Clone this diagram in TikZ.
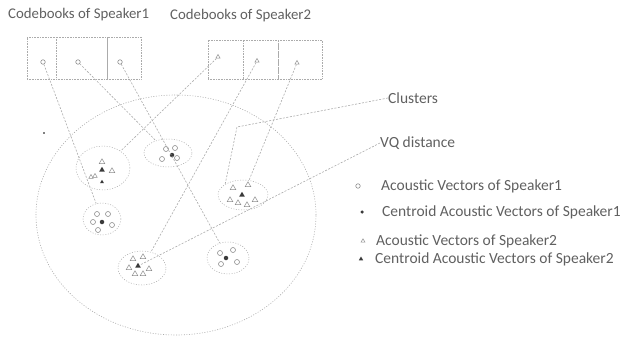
\documentclass[tikz,border=0pt]{standalone}
\usepackage{fontspec}
\setmainfont{Carlito}
\usetikzlibrary{shapes.geometric}
\definecolor{ink}{HTML}{606060}
\definecolor{wire}{HTML}{ABABAB}
\definecolor{mark}{HTML}{8C8C8C}
\definecolor{solid}{HTML}{3A3A3A}
\begin{document}
\begin{tikzpicture}[x=1pt,y=-1pt,
  lbl/.style={text=ink, inner sep=0pt, anchor=west},
  ttl/.style={lbl, font=\fontsize{14.8}{17}\selectfont},
  ann/.style={lbl, font=\fontsize{15.5}{18}\selectfont},
  cell/.style={draw=wire, densely dotted, line width=0.6pt, inner sep=0pt},
  link/.style={draw=wire, dash pattern=on 2pt off 1.5pt, line width=0.6pt},
  clus/.style={draw=wire, dash pattern=on 1pt off 1.6pt, ellipse, inner sep=0pt, line width=0.5pt},
  vecA/.style={circle, draw=mark, line width=0.6pt, minimum size=5pt, inner sep=0pt},
  cenA/.style={circle, fill=solid, minimum size=4.5pt, inner sep=0pt},
  vecB/.style={regular polygon, regular polygon sides=3, draw=mark, line width=0.5pt, minimum size=6.5pt, inner sep=0pt},
  cenB/.style={regular polygon, regular polygon sides=3, fill=solid, minimum size=6.5pt, inner sep=0pt},
]
\useasboundingbox (0,0) rectangle (621,337);

% titles
\node[ttl] (ttl1) at (8,15) {Codebooks of Speaker1};
\node[ttl] (ttl2) at (170,16) {Codebooks of Speaker2};

% codebook of speaker 1
\node[cell, minimum width=29pt, minimum height=42pt] (k11) at (41.5,58) {};
\node[cell, minimum width=51pt, minimum height=42pt] (k12) at (81.5,58) {};
\node[cell, minimum width=34pt, minimum height=42pt] (k13) at (124,58) {};
\node[vecA, minimum size=4.5pt] (m11) at (43,62) {};
\node[vecA, minimum size=4.5pt] (m12) at (78,62) {};
\node[vecA, minimum size=4.5pt] (m13) at (120,62) {};

% codebook of speaker 2
\node[cell, minimum width=35pt, minimum height=39pt] (k21) at (225.5,59.5) {};
\node[cell, minimum width=35pt, minimum height=39pt] (k22) at (260.5,59.5) {};
\node[cell, minimum width=44pt, minimum height=39pt] (k23) at (300,59.5) {};
\node[vecB, minimum size=5pt] (m21) at (218,57) {};
\node[vecB, minimum size=5pt] (m22) at (257,61) {};
\node[vecB, minimum size=5pt] (m23) at (297,63) {};

% acoustic space
\node[draw=wire, ellipse, dash pattern=on 1pt off 1.6pt, line width=0.6pt,
      minimum width=280pt, minimum height=240pt, inner sep=0pt] (space) at (176,215) {};
\fill[solid] (44,133) circle (0.9);

% clusters
\node[clus, minimum width=54pt, minimum height=44pt] (c1) at (103,168) {};
\node[clus, minimum width=48pt, minimum height=28pt] (c2) at (168,153) {};
\node[clus, minimum width=38pt, minimum height=32pt] (c3) at (102,219) {};
\node[clus, minimum width=50pt, minimum height=30pt] (c4) at (243,195) {};
\node[clus, minimum width=48pt, minimum height=34pt] (c5) at (142,268) {};
\node[clus, minimum width=42pt, minimum height=32pt] (c6) at (228,258) {};

% cluster 1 (speaker 2)
\node[vecB] (p11) at (102,162) {};
\node[cenB] (g1) at (102,170) {};
\node[vecB] (p12) at (112,171) {};
\node[vecB, minimum size=5pt] (p13) at (91,177) {};
\node[vecB, minimum size=5pt] (p14) at (95,176) {};
\node[cenB, minimum size=4.5pt] (p15) at (102,182) {};

% cluster 2 (speaker 1)
\node[vecA] (p21) at (166,149) {};
\node[vecA] (p22) at (175,148) {};
\node[cenA] (g2) at (172,155) {};
\node[vecA] (p23) at (162,159) {};
\node[vecA] (p24) at (177,158) {};

% cluster 3 (speaker 1)
\node[vecA] (p31) at (97,214) {};
\node[vecA] (p32) at (108,214) {};
\node[vecA] (p33) at (93,222) {};
\node[cenA] (g3) at (102,222) {};
\node[vecA] (p34) at (112,225) {};
\node[vecA] (p35) at (98,230) {};

% cluster 4 (speaker 2)
\node[vecB] (p41) at (233,188) {};
\node[vecB] (p42) at (248,185) {};
\node[cenB] (g4) at (242,195) {};
\node[vecB] (p43) at (230,200) {};
\node[vecB] (p44) at (238,203) {};
\node[vecB] (p45) at (247,205) {};
\node[vecB] (p46) at (255,200) {};

% cluster 5 (speaker 2)
\node[vecB] (p51) at (133,259) {};
\node[vecB] (p52) at (143,257) {};
\node[cenB] (g5) at (138,266) {};
\node[vecB] (p53) at (129,268) {};
\node[vecB] (p54) at (135,274) {};
\node[vecB] (p55) at (143,274) {};
\node[vecB] (p56) at (149,269) {};

% cluster 6 (speaker 1)
\node[vecA] (p61) at (233,250) {};
\node[vecA] (p62) at (220,253) {};
\node[cenA] (g6) at (226,258) {};
\node[vecA] (p63) at (237,262) {};
\node[vecA] (p64) at (221,264) {};

% codebook entries to their clusters
\draw[link] (m11) -- (c3);
\draw[link] (m12) -- (c2);
\draw[link] (m13) -- (c6);
\draw[link] (m21) -- (c1);
\draw[link] (m22) -- (c5);
\draw[link] (m23) -- (c4);

% annotations
\node[ann] (clab) at (388,98) {Clusters};
\node[ann] (vqlab) at (380,143) {VQ distance};
\coordinate (bend) at (237,127);
\draw[link] (clab.west) -- (bend) -- (c4.north west);
\draw[link] (vqlab.west) -- (g5);

% legend
\node[vecA, minimum size=4.5pt] (l1) at (358,186) {};
\node[ann] (t1) at (381,186) {Acoustic Vectors of Speaker1};
\node[cenA, minimum size=3.5pt] (l2) at (362,212) {};
\node[ann] (t2) at (382,212) {Centroid Acoustic Vectors of Speaker1};
\node[vecB, minimum size=4.5pt] (l3) at (363,241) {};
\node[ann] (t3) at (376,241) {Acoustic Vectors of Speaker2};
\node[cenB, minimum size=5pt] (l4) at (361,259) {};
\node[ann] (t4) at (375,259) {Centroid Acoustic Vectors of Speaker2};
\end{tikzpicture}
\end{document}
